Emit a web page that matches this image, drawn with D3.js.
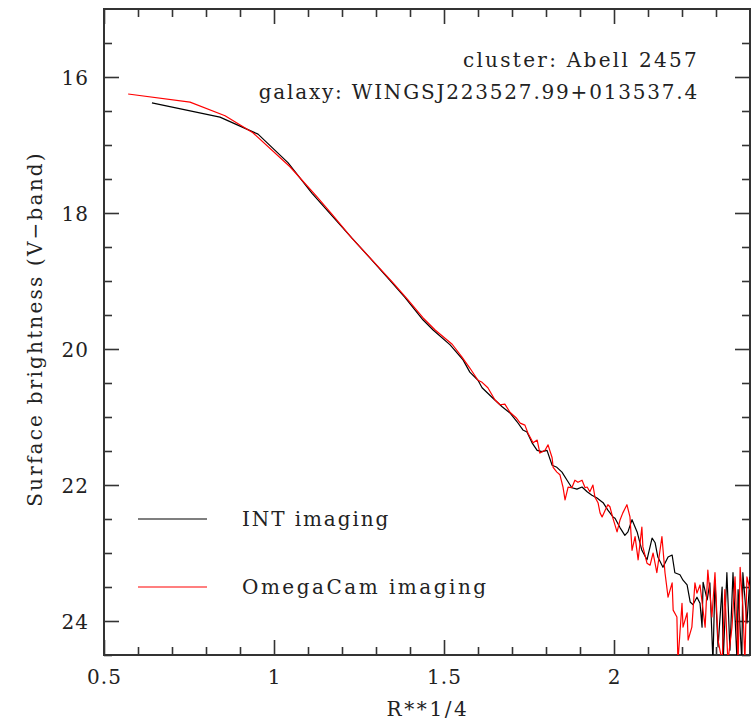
<!DOCTYPE html>
<html>
<head>
<meta charset="utf-8">
<script src="https://cdn.jsdelivr.net/npm/d3@7"></script>
<style>
  html, body { margin: 0; padding: 0; background: #fff; }
  svg text { font-family: "DejaVu Serif", serif; fill: #222; }
  .axis line { stroke: #333; stroke-width: 1.6; }
  .axis path { display: none; }
</style>
</head>
<body>
<div id="chart"></div>
<script>
// INT imaging profile (R**1/4, mag/arcsec^2)
const intX = [0.641, 0.841, 0.953, 1.041, 1.112, 1.165, 1.224, 1.282, 1.341, 1.385,
  1.438, 1.468, 1.518, 1.556, 1.576, 1.600, 1.612, 1.641, 1.671, 1.694,
  1.715, 1.732, 1.744, 1.759, 1.774, 1.788, 1.803, 1.818, 1.832, 1.847,
  1.862, 1.876, 1.891, 1.906, 1.921, 1.935, 1.950, 1.968, 1.982, 1.997,
  2.003, 2.018, 2.032, 2.041, 2.053, 2.068, 2.082, 2.097, 2.112, 2.121,
  2.129, 2.144, 2.159, 2.171, 2.179, 2.194, 2.203, 2.215, 2.224, 2.232,
  2.244, 2.253, 2.259, 2.262, 2.274, 2.282, 2.291, 2.297, 2.306, 2.318,
  2.321, 2.332, 2.341, 2.350, 2.362, 2.365, 2.376, 2.379, 2.391, 2.400];
const intY = [16.38, 16.59, 16.84, 17.26, 17.71, 18.01, 18.34, 18.66, 18.99, 19.24,
  19.57, 19.72, 19.94, 20.16, 20.34, 20.46, 20.57, 20.71, 20.85, 20.94,
  21.07, 21.19, 21.22, 21.38, 21.49, 21.51, 21.49, 21.71, 21.74, 21.81,
  21.93, 22.04, 22.06, 22.03, 22.10, 22.15, 22.19, 22.26, 22.37, 22.47,
  22.49, 22.63, 22.74, 22.69, 22.51, 22.69, 22.96, 23.10, 22.78, 22.85,
  23.06, 23.21, 23.06, 23.03, 23.29, 23.32, 23.40, 23.47, 23.72, 23.76,
  23.65, 23.74, 24.09, 23.43, 23.69, 23.44, 24.60, 23.40, 24.38, 23.50,
  24.60, 23.29, 24.43, 23.29, 24.60, 23.54, 24.60, 23.29, 24.03, 23.35];

// OmegaCam imaging profile
const omegaX = [0.571, 0.753, 0.856, 0.938, 1.047, 1.126, 1.174, 1.229, 1.288, 1.347,
  1.391, 1.438, 1.474, 1.524, 1.553, 1.576, 1.600, 1.612, 1.629, 1.650,
  1.665, 1.679, 1.694, 1.712, 1.724, 1.738, 1.747, 1.762, 1.774, 1.782,
  1.797, 1.806, 1.818, 1.821, 1.832, 1.841, 1.850, 1.856, 1.865, 1.876,
  1.885, 1.894, 1.906, 1.915, 1.921, 1.929, 1.938, 1.944, 1.953, 1.959,
  1.965, 1.974, 1.982, 1.988, 1.997, 2.009, 2.018, 2.026, 2.038, 2.047,
  2.053, 2.062, 2.071, 2.082, 2.085, 2.097, 2.106, 2.115, 2.126, 2.141,
  2.150, 2.159, 2.171, 2.174, 2.185, 2.188, 2.200, 2.203, 2.215, 2.218,
  2.229, 2.238, 2.244, 2.253, 2.268, 2.276, 2.288, 2.297, 2.306, 2.318,
  2.326, 2.335, 2.347, 2.356, 2.365, 2.371, 2.379, 2.385, 2.391, 2.400];
const omegaY = [16.25, 16.37, 16.57, 16.82, 17.32, 17.76, 18.04, 18.37, 18.69, 19.01,
  19.26, 19.54, 19.72, 19.93, 20.12, 20.28, 20.46, 20.49, 20.57, 20.75,
  20.82, 20.81, 20.93, 21.01, 21.09, 21.12, 21.24, 21.38, 21.34, 21.53,
  21.49, 21.41, 21.60, 21.74, 21.81, 21.85, 22.03, 22.22, 22.03, 22.04,
  21.93, 21.96, 21.93, 22.04, 22.03, 22.10, 22.00, 22.18, 22.26, 22.41,
  22.47, 22.37, 22.29, 22.32, 22.49, 22.69, 22.51, 22.41, 22.29, 22.47,
  22.96, 22.76, 23.10, 22.62, 22.91, 23.15, 23.18, 23.00, 23.29, 22.76,
  23.29, 23.65, 23.44, 23.84, 23.94, 24.60, 23.74, 24.09, 23.88, 24.28,
  24.09, 23.44, 23.59, 23.47, 24.09, 23.25, 23.94, 23.29, 24.28, 24.60,
  23.54, 24.60, 24.09, 23.35, 24.60, 23.21, 23.79, 24.60, 23.35, 23.54];

const xDomain = [0.5, 2.4];
const yDomain = [15, 24.5];
const xMajor = [0.5, 1, 1.5, 2];
const xMinor = [0.6, 0.7, 0.8, 0.9, 1.1, 1.2, 1.3, 1.4, 1.6, 1.7, 1.8, 1.9, 2.1, 2.2, 2.3];
const yMajor = [16, 18, 20, 22, 24];
const yMinor = [15.5, 16.5, 17, 17.5, 18.5, 19, 19.5, 20.5, 21, 21.5, 22.5, 23, 23.5, 24.5];

const infoLines = ["cluster: Abell 2457", "galaxy: WINGSJ223527.99+013537.4"];
const legendItems = [
  { label: "INT imaging", color: "#000000" },
  { label: "OmegaCam imaging", color: "#ff0000" }
];

const W = 752, H = 722;
const margin = { top: 9, right: 2, bottom: 67, left: 104 };
const width = W - margin.left - margin.right;
const height = H - margin.top - margin.bottom;
const spacing = "2.2px";

const svg = d3.select("#chart").append("svg")
  .attr("width", W).attr("height", H);

const g = svg.append("g")
  .attr("transform", "translate(" + margin.left + "," + margin.top + ")");

const x = d3.scaleLinear().domain(xDomain).range([0, width]);
const y = d3.scaleLinear().domain(yDomain).range([0, height]);

g.append("clipPath").attr("id", "plotclip")
  .append("rect").attr("width", width).attr("height", height);

// ticks, major and minor, on all four sides, pointing inward
function addAxis(axisFn, scale, values, size, labels, tx, ty) {
  let ax = axisFn(scale).tickValues(values).tickSize(-size).tickSizeOuter(0);
  ax.tickFormat(labels ? d3.format("~g") : "");
  return g.append("g").attr("class", "axis")
    .attr("transform", "translate(" + tx + "," + ty + ")")
    .call(ax);
}

addAxis(d3.axisBottom, x, xMinor, 8, false, 0, height);
addAxis(d3.axisTop, x, xMinor, 8, false, 0, 0);
addAxis(d3.axisTop, x, xMajor, 15, false, 0, 0);
let xAx = addAxis(d3.axisBottom, x, xMajor, 15, true, 0, height);
xAx.call(a => a.selectAll("text")
  .attr("y", 15).attr("font-size", 20).attr("font-family", null)
  .style("letter-spacing", "1px"));

addAxis(d3.axisLeft, y, yMinor, 8, false, 0, 0);
addAxis(d3.axisRight, y, yMinor, 8, false, width, 0);
addAxis(d3.axisRight, y, yMajor, 15, false, width, 0);
let yAx = addAxis(d3.axisLeft, y, yMajor, 15, true, 0, 0);
yAx.call(a => a.selectAll("text")
  .attr("x", -15).attr("dy", "0.38em").attr("font-size", 20).attr("font-family", null)
  .style("letter-spacing", "1px"));

g.append("rect")
  .attr("width", width).attr("height", height)
  .attr("fill", "none").attr("stroke", "#333").attr("stroke-width", 2);

// profiles
const line = d3.line()
  .x(d => x(d[0]))
  .y(d => y(d[1]));

const series = [
  { xs: intX, ys: intY, color: legendItems[0].color },
  { xs: omegaX, ys: omegaY, color: legendItems[1].color }
];

const plot = g.append("g").attr("clip-path", "url(#plotclip)");
series.forEach(s => {
  plot.append("path")
    .datum(s.xs.map((v, i) => [v, s.ys[i]]))
    .attr("fill", "none")
    .attr("stroke", s.color)
    .attr("stroke-width", 1.2)
    .attr("stroke-linejoin", "round")
    .attr("d", line);
});

// info text at top right
infoLines.forEach((t, i) => {
  g.append("text")
    .attr("x", 595).attr("y", 58 + i * 32)
    .attr("text-anchor", "end")
    .attr("font-size", 20)
    .style("letter-spacing", i === 0 ? "2.3px" : "1.8px")
    .text(t);
});

// legend
legendItems.forEach((d, i) => {
  let ly = 510 + i * 68;
  g.append("line")
    .attr("x1", 34).attr("x2", 103)
    .attr("y1", ly).attr("y2", ly)
    .attr("stroke", d.color).attr("stroke-width", 1.2);
  g.append("text")
    .attr("x", 138).attr("y", ly + 7)
    .attr("font-size", 20)
    .style("letter-spacing", i === 0 ? "1.9px" : "2.5px")
    .text(d.label);
});

// axis titles
svg.append("text")
  .attr("x", margin.left + width / 2 + 1).attr("y", 716)
  .attr("text-anchor", "middle")
  .attr("font-size", 20)
  .style("letter-spacing", "2.6px")
  .text("R**1/4");

svg.append("text")
  .attr("transform", "translate(42," + (margin.top + 320) + ") rotate(-90)")
  .attr("text-anchor", "middle")
  .attr("font-size", 20)
  .style("letter-spacing", spacing)
  .text("Surface brightness (V\u2212band)");
</script>
</body>
</html>
